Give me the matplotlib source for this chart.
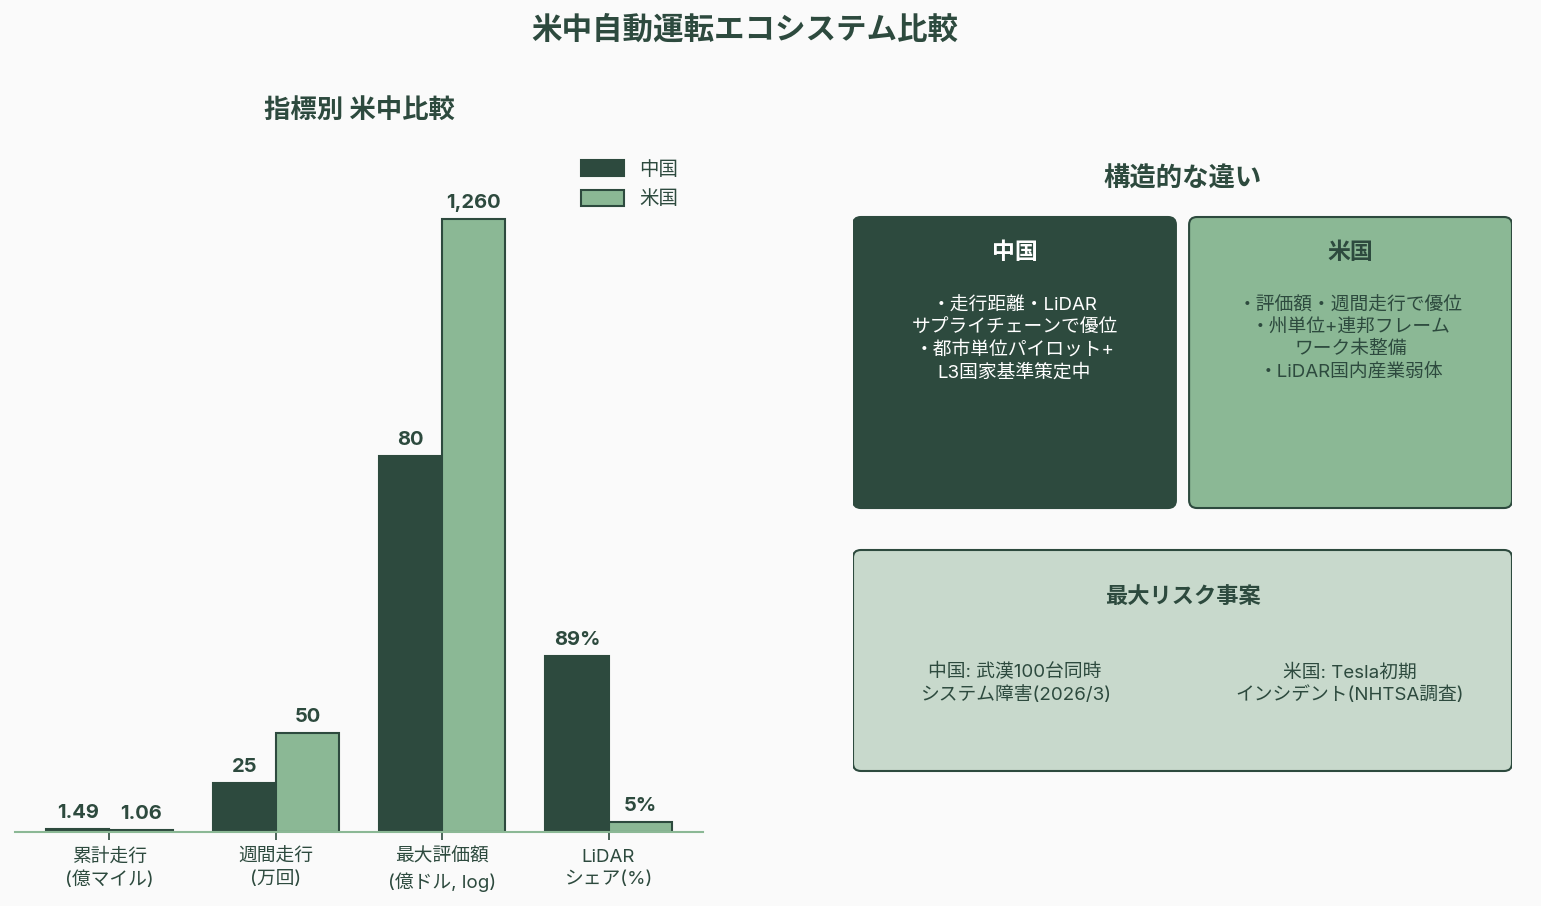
import numpy as np
import matplotlib
matplotlib.use("Agg")
import matplotlib.pyplot as plt
from matplotlib.patches import FancyBboxPatch

plt.rcParams['font.family'] = ['Inter', 'Noto Sans CJK JP', 'DejaVu Sans']

# データ
categories = ['累計走行\n(億マイル)', '週間走行\n(万回)', '最大評価額\n(億ドル, log)', 'LiDAR\nシェア(%)']
china_vals = [1.49, 25, 80, 89]
us_vals = [1.06, 50, 1260, 5]
china_labels = ['1.49', '25', '80', '89%']
us_labels = ['1.06', '50', '1,260', '5%']
log_index = 2  # 評価額はlog表示

china_text = '・走行距離・LiDAR\nサプライチェーンで優位\n・都市単位パイロット+\nL3国家基準策定中'
us_text = '・評価額・週間走行で優位\n・州単位+連邦フレーム\nワーク未整備\n・LiDAR国内産業弱体'
risk_china = '中国: 武漢100台同時\nシステム障害(2026/3)'
risk_us = '米国: Tesla初期\nインシデント(NHTSA調査)'

DARK = '#2d4a3e'
LIGHT = '#8bb895'
PALE = '#c8d9cc'
BG = '#fafafa'

def scaled(vals):
    out = list(vals)
    out[log_index] = np.log10(vals[log_index]) * 100
    return out

fig = plt.figure(figsize=(15.41, 9.06), dpi=100, facecolor=BG)
W, H = 1541, 906

def px_axes(x0, y0, x1, y1):
    return fig.add_axes([x0 / W, (H - y1) / H, (x1 - x0) / W, (y1 - y0) / H])

fig.text(745 / W, 1 - 30 / H, '米中自動運転エコシステム比較', ha='center', va='center',
         fontsize=22, fontweight='bold', color=DARK)

# 左: 棒グラフ
ax = px_axes(15, 130, 703, 832)
ax.set_facecolor(BG)
x = np.arange(len(categories))
w = 0.38
c_s = scaled(china_vals)
u_s = scaled(us_vals)
b1 = ax.bar(x - w / 2, c_s, w, color=DARK, edgecolor=DARK, linewidth=1.5, label='中国')
b2 = ax.bar(x + w / 2, u_s, w, color=LIGHT, edgecolor=DARK, linewidth=1.5, label='米国')
for bars, labels in [(b1, china_labels), (b2, us_labels)]:
    for b, lab in zip(bars, labels):
        ax.annotate(lab, (b.get_x() + b.get_width() / 2, b.get_height()),
                    xytext=(0, 5), textcoords='offset points', ha='center', va='bottom',
                    fontsize=14.5, fontweight='bold', color=DARK)
ax.set_ylim(0, 355)
ax.set_xticks(x)
ax.set_xticklabels(categories, fontsize=13.5, color=DARK, linespacing=1.38)
ax.tick_params(axis='x', color=DARK, length=6, width=1.2, pad=6)
ax.set_yticks([])
for s in ['top', 'right', 'left']:
    ax.spines[s].set_visible(False)
ax.spines['bottom'].set_color(LIGHT)
ax.spines['bottom'].set_linewidth(1.5)
ax.set_title('指標別 米中比較', fontsize=19, fontweight='bold', color=DARK, pad=9)
ax.legend(loc='upper right', bbox_to_anchor=(0.99, 0.982), frameon=False, fontsize=14,
          labelcolor=DARK, handlelength=2.2, handleheight=0.9, labelspacing=0.55)

# 右: 構造比較パネル
ax2 = px_axes(853, 150, 1512, 790)
ax2.set_xlim(0, 1)
ax2.set_ylim(0, 1)
ax2.axis('off')

ax2.text(0.5, 0.953, '構造的な違い', ha='center', va='center', fontsize=19,
         fontweight='bold', color=DARK)

boxes = [
    (0.0, 0.4406, 0.49, 0.4547, DARK, DARK),
    (0.51, 0.4406, 0.49, 0.4547, LIGHT, DARK),
    (0.0, 0.0297, 1.0, 0.3453, PALE, DARK),
]
for bx, by, bw, bh, fc, ec in boxes:
    ax2.add_patch(FancyBboxPatch((bx, by), bw, bh, boxstyle='round,pad=0,rounding_size=0.012',
                                 facecolor=fc, edgecolor=ec, linewidth=1.5))

ax2.text(0.245, 0.839, '中国', ha='center', va='center', fontsize=16.5, fontweight='bold', color='white')
ax2.text(0.245, 0.770, china_text, ha='center', va='top', fontsize=13.5,
         color='white', linespacing=1.36)
ax2.text(0.755, 0.839, '米国', ha='center', va='center', fontsize=16.5, fontweight='bold', color=DARK)
ax2.text(0.755, 0.770, us_text, ha='center', va='top', fontsize=13.5,
         color=DARK, linespacing=1.36)

ax2.text(0.5, 0.3016, '最大リスク事案', ha='center', va='center', fontsize=16, fontweight='bold', color=DARK)
ax2.text(0.246, 0.1656, risk_china, ha='center', va='center', fontsize=13.5, color=DARK,
         linespacing=1.36)
ax2.text(0.754, 0.1656, risk_us, ha='center', va='center', fontsize=13.5, color=DARK,
         linespacing=1.36)

fig.savefig('out.png', dpi=100, facecolor=BG)
